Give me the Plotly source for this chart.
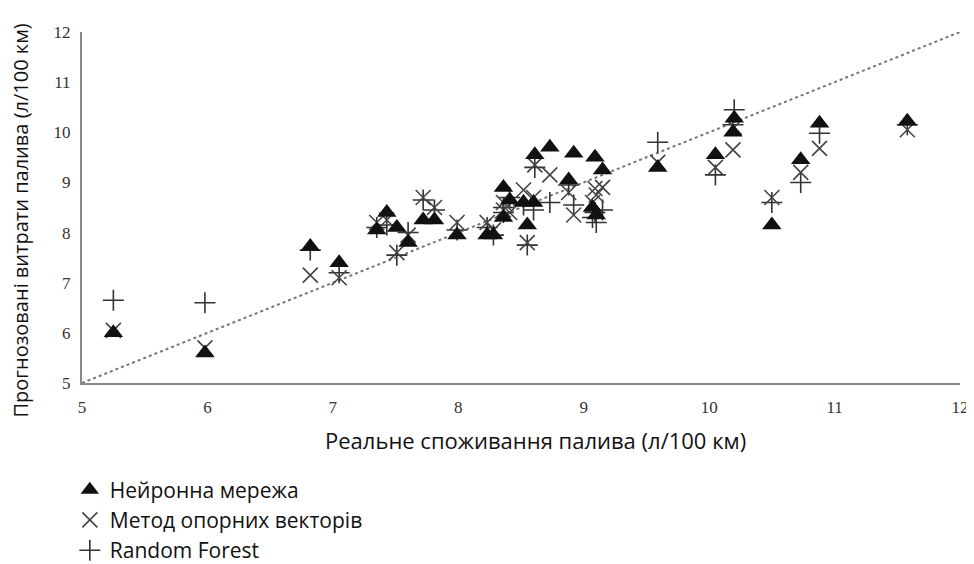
import plotly.graph_objects as go

actual = [5.25, 5.98, 6.82, 7.05, 7.35, 7.43, 7.51, 7.60, 7.72, 7.81, 7.99, 8.23,
          8.28, 8.36, 8.41, 8.36, 8.52, 8.55, 8.60, 8.61, 8.73, 8.88, 8.92, 9.07,
          9.09, 9.10, 9.15, 9.59, 10.05, 10.19, 10.20, 10.50, 10.73, 10.88, 11.58]
nn_pred = [6.0, 5.6, 7.72, 7.4, 8.05, 8.4, 8.1, 7.8, 8.25, 8.25, 7.95, 7.95,
           7.95, 8.9, 8.65, 8.3, 8.6, 8.15, 8.6, 9.55, 9.7, 9.05, 9.58, 8.5,
           9.5, 8.35, 9.25, 9.3, 9.55, 10.0, 10.28, 8.15, 9.45, 10.18, 10.22]
svm_pred = [6.05, 5.7, 7.15, 7.1, 8.2, 8.25, 7.6, 7.95, 8.7, 8.5, 8.2, 8.2,
            8.05, 8.6, 8.4, 8.45, 8.85, 7.8, 8.7, 9.35, 9.15, 8.8, 8.35, 8.6,
            8.88, 8.75, 8.9, 9.4, 9.3, 9.65, 10.1, 8.7, 9.2, 9.68, 10.05]
rf_pred = [6.65, 6.6, 7.65, 7.2, 8.1, 8.15, 7.55, 8.0, 8.65, 8.45, 8.05, 8.1,
           7.95, 8.5, 8.7, 8.4, 8.55, 7.75, 8.45, 9.3, 8.6, 8.95, 8.55, 8.3,
           8.4, 8.2, 8.45, 9.8, 9.15, 10.15, 10.45, 8.6, 9.0, 9.98, 10.15]
ref_line = [5, 12]
tick_vals = [5, 6, 7, 8, 9, 10, 11, 12]
series_names = ["Нейронна мережа", "Метод опорних векторів", "Random Forest"]
x_title = "Реальне споживання палива (л/100 км)"
y_title = "Прогнозовані витрати палива (л/100 км)"

fig = go.Figure()
fig.add_trace(go.Scatter(x=ref_line, y=ref_line, mode="lines",
                         line=dict(color="#777777", width=2, dash="dot"),
                         showlegend=False, hoverinfo="skip"))
fig.add_trace(go.Scatter(x=actual, y=rf_pred, mode="markers", name=series_names[2],
                         marker=dict(symbol="cross-thin-open", size=15, color="#333333",
                                     line=dict(color="#333333", width=1.6))))
fig.add_trace(go.Scatter(x=actual, y=svm_pred, mode="markers", name=series_names[1],
                         marker=dict(symbol="x-thin-open", size=15, color="#444444",
                                     line=dict(color="#444444", width=1.6))))
fig.add_trace(go.Scatter(x=actual, y=nn_pred, mode="markers", name=series_names[0],
                         marker=dict(symbol="triangle-up", size=17, color="#111111",
                                     line=dict(width=0))))

axis_common = dict(showgrid=False, zeroline=False, showline=True, linecolor="#888888",
                   linewidth=2, ticks="", tickvals=tick_vals, range=[5, 12],
                   tickfont=dict(family="Liberation Serif", size=17, color="#333333"))

fig.update_layout(
    width=966, height=556,
    margin=dict(l=74, r=14, t=24, b=181, autoexpand=False),
    paper_bgcolor="white", plot_bgcolor="white",
    xaxis=dict(ticklabelstandoff=8, **axis_common),
    yaxis=dict(ticklabelstandoff=6, **axis_common),
    legend=dict(x=0.064, y=0.170, xref="container", yref="container",
                xanchor="left", yanchor="top", traceorder="reversed",
                font=dict(family="Open Sans", size=21, color="#111111"),
                bgcolor="rgba(0,0,0,0)"),
    showlegend=True,
    annotations=[
        dict(text=x_title, xref="paper", yref="paper", x=0.516, y=-0.162,
             xanchor="center", yanchor="middle", showarrow=False,
             font=dict(family="Open Sans", size=22, color="#111111")),
        dict(text=y_title, xref="paper", yref="paper", x=-0.0695, y=0.463,
             xanchor="center", yanchor="middle", showarrow=False, textangle=-90,
             font=dict(family="Open Sans", size=20, color="#111111")),
    ],
)

fig.write_html("out.html")
